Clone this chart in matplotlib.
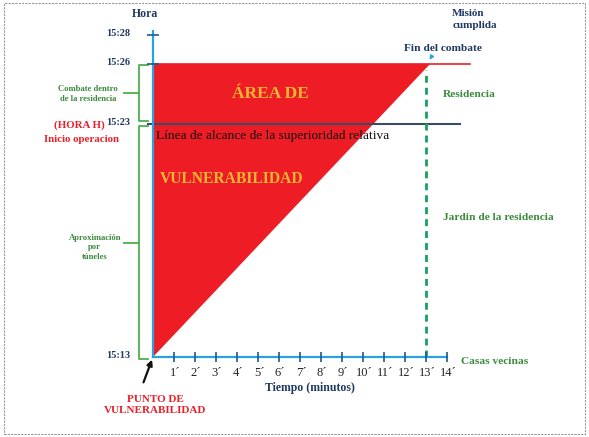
import numpy as np
import matplotlib
matplotlib.use('Agg')
import matplotlib.pyplot as plt
from matplotlib.patches import Polygon, Rectangle

# minutes on the time axis
minutos = np.arange(1, 15)
etiquetas_min = [str(m) + '´' for m in minutos]

# hour marks on the vertical axis (diagram units, not linear in time)
horas = ['15:13', '15:23', '15:26', '15:28']
horas_pos = [0.0, 10.0, 12.57, 13.82]

# vulnerability area: from the origin to the end of combat
fin_combate = 13.2      # minutes where the red area closes
mision = 13.0           # dashed line
linea_roja_fin = 15.1
alcance_ini, alcance_fin = -0.25, 14.6

serif = 'Liberation Serif'
navy = '#1f3864'
verde = '#3b8a3b'

fig = plt.figure(figsize=(5.89, 4.37), dpi=100)
ax = fig.add_axes([0, 0, 1, 1])
sx, sy = 21.0, 23.3
ax.set_xlim(-153 / sx, (589 - 153) / sx)
ax.set_ylim(-(437 - 357) / sy, 357 / sy)
ax.axis('off')

# page border
fig.patches.append(Rectangle((0.006, 0.008), 0.987, 0.984, transform=fig.transFigure,
                             fill=False, ec='#999999', lw=0.8, ls=(0, (2, 1))))

# red area
tri = Polygon([(0, 0), (0, horas_pos[2]), (fin_combate, horas_pos[2])],
              closed=True, fc='#ee1c25', ec='none', zorder=1)
ax.add_patch(tri)
ax.plot([0, linea_roja_fin], [horas_pos[2], horas_pos[2]], color='#ee1c25', lw=1.2, zorder=2)

# line of relative superiority
ax.plot([alcance_ini, alcance_fin], [horas_pos[1], horas_pos[1]], color='#3c4b64', lw=1.5, zorder=3)

# mission accomplished dashed line
ax.plot([mision, mision], [0, horas_pos[2] - 0.25], color='#12a55a', lw=2.0,
        ls=(0, (2.5, 1.8)), zorder=3)

# axes
ax.plot([0, 0], [0, 14.0], color='#29a3dc', lw=1.6, zorder=4)
ax.plot([0, minutos[-1]], [0, 0], color='#29a3dc', lw=1.6, zorder=4)
ax.plot(minutos, np.zeros_like(minutos), ls='none', marker='|', ms=7, mew=1.2,
        color='#1f5b8a', zorder=5)
ax.plot([0, 0], horas_pos[2:], ls='none', marker='_', ms=8, mew=1.2, color='#1f5b8a', zorder=5)

for m, lab in zip(minutos, etiquetas_min):
    ax.text(m + 0.05, -0.68, lab, ha='center', va='center', fontsize=9, family=serif, color='#222222')
for h, p in zip(horas, horas_pos):
    ax.text(-1.1, p + 0.05, h, ha='right', va='center', fontsize=7.5, family=serif,
            weight='bold', color=navy)

ax.text(-0.4, 14.7, 'Hora', ha='center', va='center', fontsize=8.5, family=serif,
        weight='bold', color=navy)
ax.text(7.45, -1.33, 'Tiempo (minutos)', ha='center', va='center', fontsize=8.5, family=serif,
        weight='bold', color=navy)

# labels inside the red area
ax.text(5.6, 11.3, 'ÁREA DE', ha='center', va='center', fontsize=12.5, family=serif,
        weight='bold', color='#f7b733', zorder=6)
ax.text(3.75, 7.65, 'VULNERABILIDAD', ha='center', va='center', fontsize=11.2, family=serif,
        weight='bold', color='#f7b733', zorder=6)
ax.text(0.15, 9.5, 'Línea de alcance de la superioridad relativa', ha='left', va='center',
        fontsize=9.6, family=serif, color='#111111', zorder=6)

# right side labels
ax.text(14.25, 14.5, 'Misión\ncumplida', ha='left', va='center', fontsize=8, family=serif,
        weight='bold', color=navy, linespacing=1.45)
ax.text(13.8, 13.25, 'Fin del combate', ha='center', va='center', fontsize=8.2, family=serif,
        weight='bold', color=navy)
ax.annotate('', xy=(fin_combate - 0.1, horas_pos[2] + 0.08), xytext=(13.3, 12.95),
            arrowprops=dict(arrowstyle='-|>', color='#29a3dc', lw=1, mutation_scale=6))
ax.text(13.8, 11.25, 'Residencia', ha='left', va='center', fontsize=8.2, family=serif,
        weight='bold', color=verde)
ax.text(13.8, 6.0, 'Jardin de la residencia', ha='left', va='center', fontsize=8.2, family=serif,
        weight='bold', color=verde)
ax.text(14.65, -0.2, 'Casas vecinas', ha='left', va='center', fontsize=8.2, family=serif,
        weight='bold', color=verde)

# left brackets
br = '#4cb04c'
bx, bh, bs = -0.65, -0.22, -1.4
for y0, y1 in [(horas_pos[1] + 0.15, horas_pos[2] - 0.05), (-0.1, horas_pos[1] - 0.1)]:
    ym = (y0 + y1) / 2
    ax.plot([bh, bx, bx, bh], [y0, y0, y1, y1], color=br, lw=1.3)
    ax.plot([bs, bx], [ym, ym], color=br, lw=1.3)
ax.text(-3.1, 11.3, 'Combate dentro\nde la residencia', ha='center', va='center', fontsize=6.2,
        family=serif, weight='bold', color=verde, linespacing=1.35)
ax.text(-2.77, 4.7, 'Aproximación\npor\ntúneles', ha='center', va='center', fontsize=6.2,
        family=serif, weight='bold', color=verde, linespacing=1.3)

# H hour
ax.text(-3.5, 9.95, '(HORA H)', ha='center', va='center', fontsize=7.8, family=serif,
        weight='bold', color='#e8202a')
ax.text(-3.4, 9.35, 'Inicio operacion', ha='center', va='center', fontsize=7.8, family=serif,
        weight='bold', color='#e8202a')

# vulnerability point
ax.annotate('', xy=(0, 0), xytext=(-0.5, -1.2),
            arrowprops=dict(arrowstyle='-|>', color='#111111', lw=1.6, mutation_scale=8))
ax.text(0.1, -2.05, 'PUNTO DE\nVULNERABILIDAD', ha='center', va='center', fontsize=8,
        family=serif, weight='bold', color='#e8202a', linespacing=1.35)

fig.savefig('out.png', dpi=100)
